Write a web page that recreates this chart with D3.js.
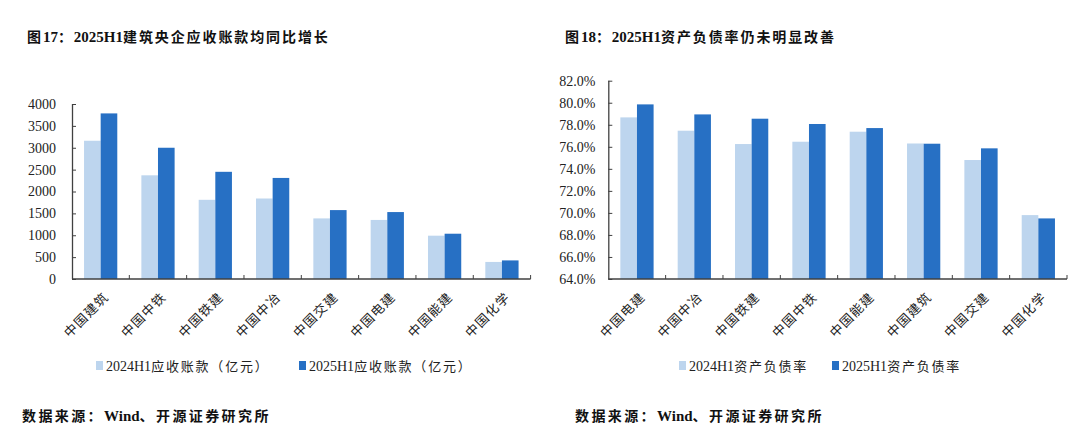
<!DOCTYPE html>
<html>
<head>
<meta charset="utf-8">
<script src="https://cdn.jsdelivr.net/npm/d3@7"></script>
<style>
  body { margin: 0; background: #fff; }
  svg { display: block; }
</style>
</head>
<body>
<svg id="chart" width="1080" height="439"></svg>
<script>
// figure 17: receivables (100m yuan)
const arCategories = ["中国建筑", "中国中铁", "中国铁建", "中国中冶", "中国交建", "中国电建", "中国能建", "中国化学"];
const ar2024 = [3160, 2370, 1810, 1840, 1385, 1350, 990, 390];
const ar2025 = [3785, 3000, 2450, 2310, 1575, 1530, 1035, 425];
const arTicks = [0, 500, 1000, 1500, 2000, 2500, 3000, 3500, 4000];

// figure 18: debt-to-asset ratio (%)
const dcCategories = ["中国电建", "中国中冶", "中国铁建", "中国中铁", "中国能建", "中国建筑", "中国交建", "中国化学"];
const dc2024 = [78.67, 77.46, 76.25, 76.46, 77.37, 76.3, 74.8, 69.8];
const dc2025 = [79.85, 78.94, 78.55, 78.07, 77.7, 76.28, 75.86, 69.5];
const dcTicks = [64, 66, 68, 70, 72, 74, 76, 78, 80, 82];

const LIGHT = "#bdd5ee";
const DARK = "#2770c4";
const LATIN = "'Liberation Serif', 'Times New Roman', serif";
const CJK = "'Noto Sans CJK SC', sans-serif";

const svg = d3.select("#chart");

// split a string into latin / cjk runs so each gets its own font
function richText(sel, str, size, cjkSpacing) {
  const runs = str.match(/[\x00-\x7f]+|[^\x00-\x7f]+/g);
  runs.forEach(function (r) {
    const latin = /^[\x00-\x7f]/.test(r);
    sel.append("tspan")
      .attr("font-family", latin ? LATIN : CJK)
      .attr("font-size", latin ? size : size - 1)
      .attr("letter-spacing", latin ? 0 : cjkSpacing)
      .text(r);
  });
}

function drawPanel(cfg) {
  const g = svg.append("g");

  const x = d3.scaleBand().domain(cfg.categories).range([cfg.left, cfg.right]).padding(0);
  const y = d3.scaleLinear().domain(cfg.domain).range([cfg.bottom, cfg.top]);
  const bw = x.bandwidth();
  const x1 = d3.scaleBand().domain([0, 1]).range([bw * 0.21, bw * 0.79]).padding(0);

  // bars
  const series = [cfg.s1, cfg.s2];
  const colors = [LIGHT, DARK];
  series.forEach(function (vals, si) {
    g.selectAll(".bar" + si)
      .data(vals)
      .enter()
      .append("rect")
      .attr("x", function (d, i) { return x(cfg.categories[i]) + x1(si); })
      .attr("width", x1.bandwidth())
      .attr("y", function (d) { return y(d); })
      .attr("height", function (d) { return y(cfg.domain[0]) - y(d); })
      .attr("fill", colors[si]);
  });

  // y axis, ticks pointing inward
  const yAxis = d3.axisLeft(y)
    .tickValues(cfg.ticks)
    .tickSize(-4)
    .tickPadding(cfg.tickPad)
    .tickFormat(cfg.fmt);
  const ya = g.append("g")
    .attr("transform", "translate(" + cfg.left + ",0)")
    .call(yAxis);
  ya.select(".domain").attr("stroke", "#404040").attr("stroke-width", 1.3)
    .attr("d", "M0.5," + cfg.top + "V" + cfg.bottom);
  ya.selectAll(".tick line").attr("stroke", "#404040");
  ya.selectAll(".tick text")
    .attr("font-family", LATIN)
    .attr("font-size", 14)
    .attr("fill", "#222");

  // x axis
  const xa = g.append("g").attr("transform", "translate(0," + cfg.bottom + ")");
  xa.append("line")
    .attr("x1", cfg.left).attr("x2", cfg.right)
    .attr("stroke", "#404040").attr("stroke-width", 1.3);
  xa.selectAll(".xt")
    .data(cfg.categories)
    .enter()
    .append("line")
    .attr("x1", function (d) { return x(d) + bw; })
    .attr("x2", function (d) { return x(d) + bw; })
    .attr("y1", 0).attr("y2", -4)
    .attr("stroke", "#404040");
  xa.selectAll(".xl")
    .data(cfg.categories)
    .enter()
    .append("text")
    .attr("transform", function (d) {
      return "translate(" + (x(d) + bw / 2 + 9) + ",19) rotate(-45)";
    })
    .attr("text-anchor", "end")
    .attr("font-family", CJK)
    .attr("font-size", 13)
    .attr("letter-spacing", 1.2)
    .attr("fill", "#222")
    .text(function (d) { return d; });

  // title
  const t = g.append("text")
    .attr("x", cfg.titleX).attr("y", 42)
    .attr("font-weight", "bold")
    .attr("fill", "#111");
  richText(t, cfg.title, 15, 1.9);

  // legend
  cfg.legend.forEach(function (lab, i) {
    const lx = cfg.legendX[i];
    g.append("rect")
      .attr("x", lx).attr("y", 361)
      .attr("width", 7).attr("height", 9)
      .attr("fill", colors[i]);
    const lt = g.append("text")
      .attr("x", lx + 10).attr("y", 371)
      .attr("fill", "#222");
    richText(lt, lab, 14, 1.8);
  });

  // source
  const s = g.append("text")
    .attr("x", cfg.sourceX).attr("y", 421)
    .attr("font-weight", "bold")
    .attr("fill", "#111");
  richText(s, "数据来源：Wind、开源证券研究所", 15, 2.4);
}

drawPanel({
  categories: arCategories,
  s1: ar2024, s2: ar2025,
  domain: [0, 4000], ticks: arTicks,
  fmt: function (d) { return d; },
  left: 72, right: 530.6, top: 104, bottom: 279,
  tickPad: 16,
  title: "图17：2025H1建筑央企应收账款均同比增长",
  titleX: 27,
  legend: ["2024H1应收账款（亿元）", "2025H1应收账款（亿元）"],
  legendX: [96, 299],
  sourceX: 22
});

drawPanel({
  categories: dcCategories,
  s1: dc2024, s2: dc2025,
  domain: [64, 82], ticks: dcTicks,
  fmt: function (d) { return d.toFixed(1) + "%"; },
  left: 608.3, right: 1067, top: 80.7, bottom: 279,
  tickPad: 13,
  title: "图18：2025H1资产负债率仍未明显改善",
  titleX: 565,
  legend: ["2024H1资产负债率", "2025H1资产负债率"],
  legendX: [679, 832],
  sourceX: 575
});
</script>
</body>
</html>
